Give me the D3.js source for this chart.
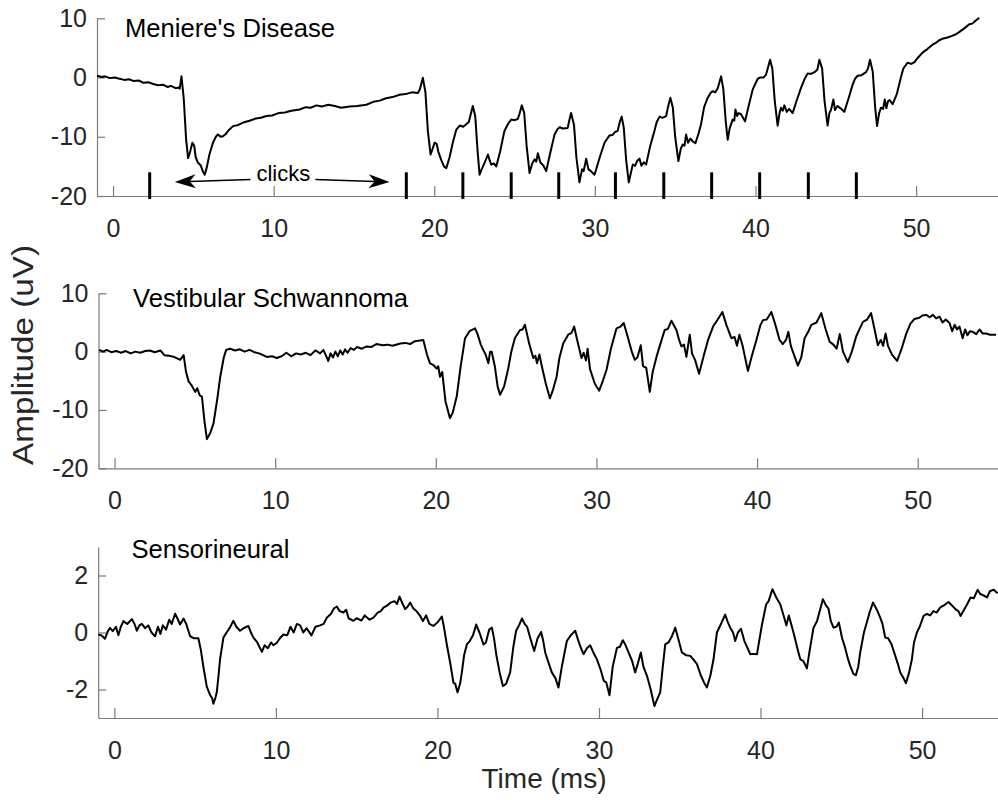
<!DOCTYPE html>
<html>
<head>
<meta charset="utf-8">
<script src="https://cdn.jsdelivr.net/npm/d3@7"></script>
<style>
  html, body { margin: 0; padding: 0; background: #fff; }
  svg { display: block; font-family: "Liberation Sans", Arial, Helvetica, sans-serif; }
</style>
</head>
<body>
<svg id="chart" width="998" height="800"></svg>
<script>
// Averaged evoked responses (amplitude in uV vs. time in ms) for three patient groups.
const meniere = [
  [-1.0,0.3],[-0.7,0.1],[-0.5,0.2],[-0.2,-0.1],[0.1,0.0],[0.4,-0.2],[0.7,-0.4],[1.0,-0.3],[1.3,-0.6],[1.6,-0.5],
  [1.9,-0.9],[2.2,-0.8],[2.5,-1.1],[2.8,-1.3],[3.1,-1.2],[3.4,-1.6],[3.6,-1.4],[3.9,-1.8],[4.1,-1.7],[4.15,-1.9],
  [4.26,0.2],[4.4,-3.5],[4.55,-10.5],[4.67,-13.6],[4.8,-12.5],[4.94,-11.0],[5.05,-11.5],[5.15,-13.5],[5.29,-14.4],
  [5.45,-14.8],[5.6,-15.9],[5.71,-16.4],[5.85,-15.0],[6.0,-13.0],[6.22,-11.0],[6.4,-10.0],[6.53,-9.6],[6.7,-10.0],
  [6.84,-9.9],[7.0,-9.6],[7.2,-8.9],[7.47,-8.2],[7.8,-8.0],[8.1,-7.6],[8.5,-7.3],[8.9,-6.9],[9.2,-6.8],[9.55,-6.5],
  [9.9,-6.4],[10.3,-6.0],[10.7,-5.9],[11.1,-5.6],[11.62,-5.4],[12.0,-5.0],[12.3,-5.1],[12.66,-4.7],[13.0,-4.9],
  [13.4,-4.6],[13.8,-4.8],[14.2,-5.1],[14.73,-4.9],[15.2,-4.8],[15.77,-4.6],[16.2,-4.1],[16.6,-3.9],[17.0,-3.5],
  [17.4,-3.3],[17.84,-2.9],[18.2,-2.8],[18.6,-2.5],[18.98,-2.6],[19.1,-2.0],[19.29,-0.05],[19.45,-2.5],[19.6,-9.0],
  [19.77,-13.0],[19.9,-12.0],[20.02,-11.0],[20.15,-11.2],[20.25,-12.5],[20.43,-13.9],[20.6,-15.0],[20.75,-15.3],
  [20.95,-13.5],[21.15,-11.0],[21.37,-8.8],[21.6,-8.1],[21.8,-8.3],[21.99,-7.9],[22.15,-7.5],[22.4,-4.8],[22.55,-6.5],
  [22.7,-12.5],[22.82,-16.4],[22.95,-15.5],[23.13,-14.4],[23.34,-13.0],[23.45,-14.0],[23.55,-14.7],[23.7,-14.5],
  [23.86,-15.0],[24.1,-12.5],[24.37,-9.0],[24.6,-7.8],[24.79,-7.1],[25.0,-7.2],[25.2,-7.0],[25.3,-6.2],[25.45,-4.7],
  [25.6,-6.0],[25.75,-11.5],[25.93,-16.1],[26.1,-14.5],[26.25,-13.8],[26.35,-14.2],[26.45,-12.8],[26.6,-14.3],
  [26.8,-14.9],[26.97,-15.8],[27.2,-13.0],[27.49,-9.6],[27.65,-8.8],[27.8,-8.4],[28.0,-8.6],[28.31,-8.5],[28.4,-7.3],
  [28.52,-6.0],[28.7,-8.0],[28.85,-13.5],[29.04,-17.7],[29.2,-15.5],[29.3,-15.8],[29.46,-13.7],[29.6,-15.5],
  [29.75,-15.8],[29.98,-16.4],[30.3,-13.5],[30.6,-11.0],[30.9,-9.8],[31.1,-9.7],[31.25,-9.2],[31.42,-9.0],[31.55,-7.5],
  [31.67,-6.6],[31.8,-8.5],[31.95,-14.0],[32.11,-17.7],[32.25,-16.0],[32.36,-14.7],[32.5,-14.9],[32.65,-14.0],
  [32.78,-13.7],[32.9,-14.9],[33.05,-14.3],[33.19,-14.7],[33.45,-11.5],[33.71,-9.0],[33.85,-7.5],[34.03,-6.6],
  [34.2,-6.8],[34.44,-6.5],[34.55,-5.0],[34.7,-3.4],[34.85,-5.0],[35.0,-10.0],[35.2,-14.1],[35.35,-12.0],[35.47,-11.3],
  [35.58,-11.5],[35.68,-9.6],[35.8,-11.0],[35.95,-10.3],[36.1,-10.8],[36.26,-11.1],[36.45,-9.5],[36.61,-7.9],
  [36.8,-5.0],[37.03,-3.4],[37.2,-2.6],[37.34,-2.3],[37.5,-2.5],[37.65,-1.8],[37.86,0.2],[38.0,-2.0],[38.15,-7.5],
  [38.27,-10.5],[38.4,-8.5],[38.58,-7.1],[38.68,-7.3],[38.75,-5.4],[38.85,-6.5],[38.95,-6.0],[39.1,-6.2],[39.35,-7.4],
  [39.6,-4.5],[39.83,-2.0],[40.0,-1.0],[40.14,-0.2],[40.3,0.0],[40.5,0.0],[40.66,0.5],[40.91,3.0],[41.05,1.5],
  [41.2,-4.0],[41.38,-8.1],[41.5,-6.0],[41.59,-5.1],[41.7,-5.6],[41.8,-4.7],[41.95,-5.8],[42.1,-5.3],[42.31,-6.0],
  [42.55,-4.0],[42.84,-1.7],[43.05,-0.3],[43.25,0.7],[43.45,0.6],[43.67,0.9],[43.85,1.3],[43.98,3.0],[44.15,1.5],
  [44.3,-4.0],[44.49,-8.1],[44.6,-6.0],[44.7,-5.5],[44.85,-3.7],[44.95,-5.5],[45.1,-4.8],[45.3,-5.2],[45.53,-5.8],
  [45.8,-3.5],[46.05,-1.2],[46.2,-0.2],[46.36,0.3],[46.6,0.4],[46.88,0.9],[47.0,1.5],[47.13,3.0],[47.3,1.0],
  [47.45,-5.0],[47.57,-8.2],[47.7,-6.0],[47.81,-5.1],[47.95,-5.3],[48.05,-3.7],[48.15,-5.2],[48.25,-4.0],[48.35,-3.8],
  [48.54,-4.5],[48.8,-2.8],[49.06,0.1],[49.2,1.5],[49.47,2.5],[49.7,2.3],[49.9,2.6],[50.1,3.3],[50.4,4.2],[50.7,4.8],
  [51.0,5.5],[51.2,5.8],[51.44,6.3],[51.7,6.6],[52.0,6.8],[52.2,7.0],[52.48,7.3],[52.7,7.7],[53.0,8.3],[53.31,9.0],
  [53.5,9.1],[53.7,9.6],[53.93,10.1]
];

const schwannoma = [
  [-0.96,0.3],[-0.7,0.0],[-0.5,0.3],[-0.2,-0.1],[0.1,0.1],[0.4,-0.2],[0.7,0.1],[1.0,-0.3],[1.3,0.0],[1.6,-0.2],
  [1.9,0.1],[2.2,0.2],[2.5,-0.1],[2.85,0.2],[3.1,-0.6],[3.4,-0.7],[3.7,-0.9],[4.09,-1.4],[4.3,-0.6],[4.45,-3.5],
  [4.61,-5.1],[4.8,-5.8],[5.02,-6.9],[5.15,-6.3],[5.3,-7.5],[5.44,-7.7],[5.6,-12.0],[5.75,-15.0],[5.95,-14.0],
  [6.16,-12.3],[6.4,-8.0],[6.58,-4.3],[6.8,-1.0],[6.95,0.3],[7.2,0.5],[7.5,0.2],[7.8,0.4],[8.1,0.0],[8.4,0.3],
  [8.7,-0.1],[9.0,-0.3],[9.48,-0.9],[9.8,-0.8],[10.1,-1.1],[10.4,-0.8],[10.7,-0.2],[11.0,-0.8],[11.3,-0.3],
  [11.6,-0.5],[11.9,-0.2],[12.2,-0.6],[12.5,0.2],[12.8,-0.3],[13.0,0.3],[13.15,-0.6],[13.3,-1.6],[13.45,-0.3],
  [13.6,-1.0],[13.75,0.0],[13.9,-0.8],[14.05,0.2],[14.2,-0.5],[14.35,0.4],[14.5,-0.2],[14.7,0.6],[14.9,0.3],
  [15.1,0.8],[15.4,0.5],[15.7,0.9],[16.0,0.8],[16.3,1.3],[16.7,1.1],[17.0,1.2],[17.3,1.0],[17.8,1.4],[18.1,1.5],
  [18.4,1.3],[18.7,1.8],[19.0,1.9],[19.22,2.0],[19.45,-0.5],[19.64,-2.0],[19.85,-2.3],[20.05,-2.9],[20.15,-2.5],
  [20.26,-4.3],[20.4,-3.5],[20.6,-8.5],[20.88,-11.4],[21.05,-10.5],[21.3,-7.7],[21.55,-2.5],[21.82,2.3],[22.1,3.5],
  [22.44,4.0],[22.6,3.0],[22.8,1.2],[22.95,0.3],[23.1,-0.5],[23.27,-2.0],[23.38,0.0],[23.48,0.0],[23.68,-2.6],
  [23.85,-6.0],[24.0,-7.4],[24.25,-6.0],[24.51,-2.9],[24.7,0.0],[24.92,2.3],[25.24,3.7],[25.4,3.8],[25.55,4.6],
  [25.8,1.5],[26.07,-1.1],[26.2,-0.7],[26.3,-2.0],[26.45,-0.5],[26.6,-2.5],[26.85,-5.5],[27.1,-8.0],[27.3,-6.5],
  [27.52,-4.3],[27.7,-1.0],[27.93,1.4],[28.24,2.9],[28.45,3.2],[28.61,4.3],[28.8,2.0],[29.07,-1.1],[29.2,-0.2],
  [29.35,-1.5],[29.45,0.5],[29.6,-3.0],[29.9,-5.5],[30.17,-6.7],[30.4,-5.0],[30.63,-3.1],[30.9,0.5],[31.25,4.0],
  [31.5,4.3],[31.7,4.9],[31.95,2.5],[32.2,0.0],[32.39,-1.4],[32.55,-1.0],[32.76,1.1],[32.9,-2.5],[33.1,-2.8],
  [33.32,-6.9],[33.5,-3.5],[33.74,-0.9],[34.0,1.5],[34.25,3.7],[34.45,3.9],[34.67,5.3],[34.98,3.7],[35.15,2.0],
  [35.29,0.9],[35.45,1.2],[35.6,-0.9],[35.81,2.9],[35.95,-0.3],[36.15,-1.5],[36.39,-3.8],[36.7,-0.5],[36.95,2.0],
  [37.26,4.3],[37.55,5.5],[37.84,6.8],[38.1,4.5],[38.4,2.3],[38.6,2.5],[38.75,1.0],[38.9,2.9],[39.1,1.0],
  [39.43,-3.3],[39.7,-0.5],[39.96,2.0],[40.2,4.5],[40.37,5.4],[40.6,5.5],[40.89,6.8],[41.15,4.5],[41.4,2.0],
  [41.6,1.3],[41.8,2.0],[41.95,3.4],[42.1,1.0],[42.54,-2.4],[42.75,-1.0],[42.96,2.3],[43.2,3.5],[43.38,4.6],
  [43.7,5.0],[44.0,6.6],[44.25,4.0],[44.52,1.7],[44.75,1.2],[44.95,0.5],[45.15,3.0],[45.35,0.0],[45.65,-1.8],
  [45.9,0.0],[46.17,2.6],[46.4,4.0],[46.59,5.1],[46.85,5.5],[47.1,6.6],[47.3,4.0],[47.52,1.1],[47.7,2.0],
  [47.85,1.0],[48.0,3.1],[48.15,1.0],[48.4,-0.5],[48.72,-1.6],[49.0,0.5],[49.29,3.1],[49.55,4.8],[49.8,5.6],
  [50.1,5.8],[50.3,6.2],[50.53,6.3],[50.75,5.9],[50.95,6.3],[51.15,5.7],[51.36,6.0],[51.55,5.0],[51.75,5.5],
  [51.98,4.9],[52.15,3.5],[52.3,4.6],[52.45,3.8],[52.6,4.3],[52.8,2.3],[52.95,3.8],[53.1,2.8],[53.25,3.5],
  [53.43,3.4],[53.65,3.0],[53.85,3.8],[54.05,3.1],[54.26,3.1],[54.5,2.9],[54.88,2.9]
];

const sensorineural = [
  [-0.99,-0.07],[-0.8,-0.1],[-0.58,-0.22],[-0.4,0.05],[-0.27,0.16],[-0.1,0.05],[0.1,0.2],[0.25,-0.1],[0.4,0.2],
  [0.56,0.4],[0.8,0.3],[1.08,0.47],[1.25,0.3],[1.39,0.06],[1.55,0.25],[1.7,0.3],[1.9,0.15],[2.1,0.25],[2.3,0.0],
  [2.52,-0.13],[2.7,0.2],[2.85,-0.05],[3.0,0.25],[3.2,0.1],[3.4,0.45],[3.55,0.3],[3.76,0.66],[3.9,0.5],[4.07,0.28],
  [4.28,0.49],[4.45,0.3],[4.69,-0.13],[4.9,-0.2],[5.2,-0.2],[5.35,-0.6],[5.51,-1.2],[5.72,-1.9],[5.93,-2.2],
  [6.05,-2.3],[6.13,-2.5],[6.25,-2.3],[6.34,-2.1],[6.45,-1.5],[6.54,-0.95],[6.75,-0.18],[6.95,0.0],[7.16,0.18],
  [7.37,0.41],[7.55,0.2],[7.78,0.06],[8.0,0.15],[8.3,0.23],[8.45,0.0],[8.61,-0.18],[8.85,-0.35],[9.13,-0.68],
  [9.3,-0.45],[9.5,-0.55],[9.7,-0.35],[9.85,-0.45],[10.06,-0.36],[10.25,-0.2],[10.46,-0.07],[10.7,-0.1],[10.9,0.2],
  [11.1,0.0],[11.3,0.3],[11.5,0.25],[11.7,0.0],[11.9,0.15],[12.2,-0.1],[12.45,0.2],[12.74,0.25],[12.95,0.3],
  [13.15,0.52],[13.4,0.65],[13.6,0.85],[13.77,0.91],[13.95,0.75],[14.18,0.7],[14.35,0.8],[14.5,0.5],[14.8,0.41],
  [15.0,0.5],[15.3,0.42],[15.5,0.6],[15.8,0.45],[16.04,0.52],[16.3,0.7],[16.5,0.75],[16.66,0.87],[16.9,0.95],
  [17.1,1.05],[17.34,1.1],[17.5,1.0],[17.65,1.26],[17.85,1.0],[18.0,0.82],[18.15,0.9],[18.31,1.05],[18.5,0.85],
  [18.7,0.75],[18.93,0.58],[19.1,0.4],[19.3,0.6],[19.5,0.3],[19.75,0.23],[20.0,0.35],[20.27,0.56],[20.4,0.2],
  [20.58,-0.42],[20.8,-1.1],[20.99,-1.76],[21.1,-1.8],[21.24,-2.1],[21.4,-1.8],[21.51,-1.4],[21.65,-0.8],
  [21.82,-0.42],[22.0,-0.3],[22.2,-0.1],[22.4,0.28],[22.6,0.0],[22.85,-0.42],[23.0,-0.35],[23.2,0.1],[23.37,0.17],
  [23.5,-0.2],[23.65,-0.8],[23.85,-1.4],[24.05,-1.88],[24.25,-1.8],[24.5,-1.4],[24.7,-0.5],[24.87,0.06],[25.05,0.25],
  [25.23,0.49],[25.4,0.3],[25.55,0.2],[25.75,-0.2],[25.99,-0.65],[26.2,-0.2],[26.42,0.02],[26.55,-0.3],[26.67,-0.7],
  [26.9,-1.1],[27.08,-1.4],[27.3,-1.6],[27.49,-1.93],[27.7,-1.2],[28.01,-0.3],[28.25,-0.1],[28.53,0.06],[28.7,-0.25],
  [28.85,-0.5],[29.04,-0.76],[29.25,-0.55],[29.46,-0.45],[29.65,-0.7],[29.87,-0.94],[30.1,-1.3],[30.3,-1.7],
  [30.45,-1.75],[30.65,-2.2],[30.85,-1.2],[31.11,-0.54],[31.3,-0.5],[31.48,-0.27],[31.65,-0.45],[31.83,-0.7],
  [32.05,-1.0],[32.24,-1.4],[32.4,-1.1],[32.59,-0.7],[32.75,-1.2],[32.97,-1.52],[33.2,-2.0],[33.43,-2.58],
  [33.6,-2.35],[33.79,-2.1],[33.95,-1.2],[34.1,-0.42],[34.3,-0.35],[34.5,-0.15],[34.72,0.17],[34.9,-0.2],
  [35.13,-0.7],[35.4,-0.8],[35.65,-0.82],[35.85,-0.95],[36.06,-1.1],[36.3,-1.5],[36.5,-1.75],[36.68,-1.93],
  [36.9,-1.5],[37.09,-0.94],[37.3,0.0],[37.55,0.3],[37.81,0.63],[37.95,0.4],[38.12,0.17],[38.3,0.0],[38.43,-0.3],
  [38.6,0.0],[38.79,0.13],[39.0,-0.3],[39.2,-0.55],[39.36,-0.76],[39.55,-0.75],[39.78,-0.76],[40.09,0.28],
  [40.35,0.99],[40.5,1.1],[40.74,1.52],[41.0,1.2],[41.22,0.99],[41.45,0.55],[41.6,0.25],[41.75,0.6],[42.04,0.0],
  [42.3,-0.6],[42.46,-0.94],[42.65,-1.0],[42.87,-1.26],[43.05,-0.6],[43.28,0.17],[43.5,0.4],[43.86,1.17],
  [44.05,0.95],[44.2,0.85],[44.35,0.4],[44.52,0.17],[44.7,0.2],[44.85,0.35],[45.05,-0.2],[45.24,-0.54],[45.4,-0.9],
  [45.55,-1.17],[45.75,-1.45],[45.9,-1.5],[46.05,-1.2],[46.17,-0.7],[46.4,0.0],[46.58,0.35],[46.75,0.7],
  [46.96,1.05],[47.2,0.8],[47.41,0.52],[47.55,0.3],[47.72,-0.18],[47.9,-0.2],[48.1,-0.4],[48.34,-0.82],[48.5,-1.1],
  [48.65,-1.4],[48.85,-1.6],[49.0,-1.78],[49.2,-1.4],[49.37,-0.94],[49.5,-0.35],[49.68,0.0],[49.85,0.2],
  [50.09,0.58],[50.3,0.65],[50.5,0.6],[50.7,0.75],[50.9,0.7],[51.13,0.88],[51.35,0.95],[51.64,1.07],[51.85,0.95],
  [52.1,0.8],[52.25,0.75],[52.38,0.58],[52.6,0.8],[52.8,1.0],[53.0,1.23],[53.2,1.2],[53.44,1.5],[53.6,1.35],
  [53.8,1.3],[54.02,1.23],[54.2,1.45],[54.43,1.5],[54.68,1.38]
];

// Stimulus click onsets (ms)
const clickTimes = [2.28, 18.26, 21.78, 24.79, 27.75, 31.28, 34.29, 37.27, 40.26, 43.29, 46.28];

const panelTitles = ["Meniere's Disease", "Vestibular Schwannoma", "Sensorineural"];
const xTicks = [0, 10, 20, 30, 40, 50];
const yTicksLarge = [-20, -10, 0, 10];
const yTicksSmall = [-2, 0, 2];

const svg = d3.select("#chart");
const FONT = 25;

const panels = [
  { data: meniere,       title: panelTitles[0], xDom: [-1, 55.1], xRange: [97, 998],   yDom: [-20, 10], yRange: [196, 18.3],  yTicks: yTicksLarge, titlePos: [125, 36.5], titleLen: 210 },
  { data: schwannoma,    title: panelTitles[1], xDom: [-1, 55.0], xRange: [98.5, 998], yDom: [-20, 10], yRange: [468.3, 293.3], yTicks: yTicksLarge, titlePos: [133, 307], titleLen: 275 },
  { data: sensorineural, title: panelTitles[2], xDom: [-1, 54.7], xRange: [98.2, 998], yDom: [-3, 3],   yRange: [718, 547],   yTicks: yTicksSmall, titlePos: [131.5, 558], titleLen: 158 }
];

panels.forEach((p, i) => {
  const x = d3.scaleLinear().domain(p.xDom).range(p.xRange);
  const y = d3.scaleLinear().domain(p.yDom).range(p.yRange);
  p.x = x; p.y = y;
  const g = svg.append("g");

  // x axis, ticks pointing inward
  const xa = g.append("g")
    .attr("transform", `translate(0,${p.yRange[0]})`)
    .call(d3.axisBottom(x).tickValues(xTicks).tickSizeInner(-10).tickSizeOuter(0).tickPadding(23));
  // y axis
  const ya = g.append("g")
    .attr("transform", `translate(${p.xRange[0]},0)`)
    .call(d3.axisLeft(y).tickValues(p.yTicks).tickSizeInner(-8).tickSizeOuter(0).tickPadding(10)
      .tickFormat(d3.format("d")));

  [xa, ya].forEach(a => {
    a.select(".domain").attr("stroke", "#7a7a7a").attr("stroke-width", 1.2);
    a.selectAll(".tick line").attr("stroke", "#7a7a7a").attr("stroke-width", 1.2);
    a.selectAll(".tick text").attr("fill", "#262626").style("font-size", FONT + "px")
      .style("font-family", "'Liberation Sans', Arial, sans-serif")
      .text(d => d < 0 ? "-" + Math.abs(d) : String(d));
  });

  // trace
  g.append("path")
    .datum(p.data)
    .attr("fill", "none")
    .attr("stroke", "#000")
    .attr("stroke-width", 2)
    .attr("stroke-linejoin", "round")
    .attr("d", d3.line().x(d => x(d[0])).y(d => y(d[1])));

  // panel title
  g.append("text")
    .attr("x", p.titlePos[0]).attr("y", p.titlePos[1])
    .attr("fill", "#000")
    .attr("textLength", p.titleLen)
    .attr("lengthAdjust", "spacingAndGlyphs")
    .style("font-size", FONT + "px")
    .text(p.title);
});

// click markers in the top panel
const p0 = panels[0];
svg.append("g").selectAll("line")
  .data(clickTimes)
  .join("line")
  .attr("x1", d => p0.x(d)).attr("x2", d => p0.x(d))
  .attr("y1", p0.y(-16.0)).attr("y2", p0.y(-20.5))
  .attr("stroke", "#000").attr("stroke-width", 3);

// "clicks" annotation with arrows
function arrow(t0, v0, t1, v1) {
  const x0 = p0.x(t0), y0 = p0.y(v0), x1 = p0.x(t1), y1 = p0.y(v1);
  const ang = Math.atan2(y1 - y0, x1 - x0);
  const L = 21, W = 7, N = 6;
  const ux = Math.cos(ang), uy = Math.sin(ang), px = -uy, py = ux;
  const bx = x1 - ux * L, by = y1 - uy * L;
  const nx = x1 - ux * (L - N), ny = y1 - uy * (L - N);
  svg.append("line")
    .attr("x1", x0).attr("y1", y0).attr("x2", nx).attr("y2", ny)
    .attr("stroke", "#000").attr("stroke-width", 1.5);
  svg.append("path")
    .attr("d", `M${x1},${y1} L${bx + px * W},${by + py * W} L${nx},${ny} L${bx - px * W},${by - py * W} Z`)
    .attr("fill", "#000");
}
arrow(8.55, -17.2, 3.84, -17.65);
arrow(12.6, -17.2, 17.22, -17.65);
svg.append("text")
  .attr("x", p0.x(10.6)).attr("y", p0.y(-17.55))
  .attr("text-anchor", "middle")
  .style("font-size", "22px")
  .attr("fill", "#000")
  .text("clicks");

// shared axis labels
svg.append("text")
  .attr("transform", "translate(33,355) rotate(-90)")
  .attr("text-anchor", "middle")
  .attr("fill", "#262626")
  .attr("textLength", 220)
  .attr("lengthAdjust", "spacingAndGlyphs")
  .style("font-size", "29px")
  .text("Amplitude (uV)");

svg.append("text")
  .attr("x", 544).attr("y", 788)
  .attr("text-anchor", "middle")
  .attr("fill", "#262626")
  .style("font-size", "28px")
  .text("Time (ms)");
</script>
</body>
</html>
